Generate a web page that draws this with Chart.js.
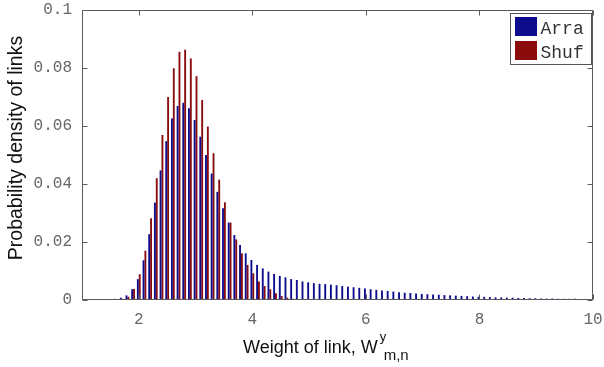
<!DOCTYPE html>
<html>
<head>
<meta charset="utf-8">
<title>Weight of link histogram</title>
<script src="https://cdn.jsdelivr.net/npm/chart.js@4.4.1/dist/chart.umd.min.js"></script>
<style>
	html, body { margin: 0; padding: 0; background: #fff; }
	#chart { display: block; }
</style>
</head>
<body>
<canvas id="chart" width="604" height="367"></canvas>
<script>
/* 링크 가중치 분포 히스토그램 */

// 구간 중심값 (W)
const binCenters = [
	1.0, 1.1, 1.2, 1.3, 1.4, 1.5, 1.6, 1.7, 1.8, 1.9,
	2.0, 2.1, 2.2, 2.3, 2.4, 2.5, 2.6, 2.7, 2.8, 2.9,
	3.0, 3.1, 3.2, 3.3, 3.4, 3.5, 3.6, 3.7, 3.8, 3.9,
	4.0, 4.1, 4.2, 4.3, 4.4, 4.5, 4.6, 4.7, 4.8, 4.9,
	5.0, 5.1, 5.2, 5.3, 5.4, 5.5, 5.6, 5.7, 5.8, 5.9,
	6.0, 6.1, 6.2, 6.3, 6.4, 6.5, 6.6, 6.7, 6.8, 6.9,
	7.0, 7.1, 7.2, 7.3, 7.4, 7.5, 7.6, 7.7, 7.8, 7.9,
	8.0, 8.1, 8.2, 8.3, 8.4, 8.5, 8.6, 8.7, 8.8, 8.9,
	9.0, 9.1, 9.2, 9.3, 9.4, 9.5, 9.6, 9.7, 9.8, 9.9,
	10.0
];

// Arra 확률밀도
const arraDensity = [
	0.0001, 0.0002, 0.0002, 0.0002, 0.0002, 0.0003, 0.0004, 0.0008, 0.0016, 0.0037,
	0.0072, 0.0137, 0.0227, 0.0336, 0.0447, 0.0548, 0.0626, 0.0669, 0.0680, 0.0661,
	0.0621, 0.0563, 0.0500, 0.0436, 0.0373, 0.0316, 0.0267, 0.0224, 0.0190, 0.0161,
	0.0138, 0.0121, 0.0109, 0.0098, 0.0090, 0.0083, 0.0078, 0.0072, 0.0069, 0.0064,
	0.0061, 0.0058, 0.0056, 0.0055, 0.0053, 0.0051, 0.0048, 0.0046, 0.0044, 0.0042,
	0.0040, 0.0037, 0.0035, 0.0033, 0.0031, 0.0029, 0.0027, 0.0025, 0.0024, 0.0022,
	0.0021, 0.0020, 0.0019, 0.0018, 0.0017, 0.0016, 0.0015, 0.0014, 0.0013, 0.0012,
	0.0011, 0.0011, 0.0010, 0.0009, 0.0009, 0.0008, 0.0008, 0.0007, 0.0007, 0.0006,
	0.0006, 0.0005, 0.0005, 0.0005, 0.0004, 0.0004, 0.0004, 0.0004, 0.0003, 0.0003,
	0.0003
];

// Shuf 확률밀도
const shufDensity = [
	0.0001, 0.0001, 0.0001, 0.0001, 0.0001, 0.0001, 0.0002, 0.0004, 0.0011, 0.0038,
	0.0089, 0.0170, 0.0282, 0.0420, 0.0569, 0.0700, 0.0799, 0.0856, 0.0863, 0.0833,
	0.0772, 0.0690, 0.0598, 0.0506, 0.0415, 0.0337, 0.0267, 0.0209, 0.0161, 0.0121,
	0.0092, 0.0064, 0.0048, 0.0037, 0.0023, 0.0014, 0.0008, 0.0004, 0.0002, 0.0001,
	0, 0, 0, 0, 0, 0, 0, 0, 0, 0,
	0, 0, 0, 0, 0, 0, 0, 0, 0, 0,
	0, 0, 0, 0, 0, 0, 0, 0, 0, 0,
	0, 0, 0, 0, 0, 0, 0, 0, 0, 0,
	0, 0, 0, 0, 0, 0, 0, 0, 0, 0,
	0
];

// 눈금
const xTicks = [2, 4, 6, 8, 10];
const yTicks = [0, 0.02, 0.04, 0.06, 0.08, 0.1];

const seriesNames = ['Arra', 'Shuf'];
const xTitle = 'Weight of link, W';
const xTitleSup = 'y';
const xTitleSub = 'm,n';
const yTitle = 'Probability density of links';

/* 테두리 + 안쪽 눈금 (matlab 스타일) */
const framePlugin = {
	id: 'frame',
	afterDatasetsDraw(chart) {
		const ctx = chart.ctx;
		const a = chart.chartArea;
		const xs = chart.scales.x, ys = chart.scales.y;
		const L = Math.round(a.left) + 0.5, R = Math.round(a.right) - 0.5;
		const T = Math.round(a.top) + 0.5, B = Math.round(a.bottom) - 0.5;
		ctx.save();
		ctx.strokeStyle = '#5a5a5a';
		ctx.lineWidth = 1;
		ctx.beginPath();
		ctx.rect(L, T, R - L, B - T);
		xTicks.forEach(function(v) {
			const px = Math.round(xs.getPixelForValue(v)) + 0.5;
			ctx.moveTo(px, B); ctx.lineTo(px, B - 5);
			ctx.moveTo(px, T); ctx.lineTo(px, T + 5);
		});
		yTicks.forEach(function(v) {
			const py = Math.round(ys.getPixelForValue(v)) + 0.5;
			ctx.moveTo(L, py); ctx.lineTo(L + 5, py);
			ctx.moveTo(R, py); ctx.lineTo(R - 5, py);
		});
		ctx.stroke();
		ctx.restore();
	}
};

/* 범례 (그래프 안 오른쪽 위) */
const legendPlugin = {
	id: 'boxLegend',
	afterDraw(chart) {
		const ctx = chart.ctx;
		const a = chart.chartArea;
		const boxR = Math.round(a.right) - 1.5, boxT = Math.round(a.top) + 3.5;
		const boxW = 81, boxH = 51;
		ctx.save();
		ctx.fillStyle = '#fff';
		ctx.strokeStyle = '#555';
		ctx.lineWidth = 1;
		ctx.fillRect(boxR - boxW, boxT, boxW, boxH);
		ctx.strokeRect(boxR - boxW, boxT, boxW, boxH);
		ctx.font = '18px "Liberation Mono"';
		ctx.textBaseline = 'alphabetic';
		chart.data.datasets.forEach(function(ds, i) {
			const y = boxT + 3.5 + i * 24;
			ctx.fillStyle = ds.backgroundColor;
			ctx.fillRect(boxR - boxW + 4.5, y, 22, 19);
			ctx.fillStyle = '#333';
			ctx.fillText(ds.label, boxR - boxW + 30, y + 17);
		});
		ctx.restore();
	}
};

/* 축 제목 (x축은 위첨자/아래첨자 포함) */
const titlePlugin = {
	id: 'axisTitles',
	afterDraw(chart) {
		const ctx = chart.ctx;
		const x0 = 243, base = 353;
		ctx.save();
		ctx.fillStyle = '#111';
		ctx.textBaseline = 'alphabetic';
		ctx.font = '18px "Liberation Sans"';
		ctx.fillText(xTitle, x0, base);
		const w = ctx.measureText(xTitle).width;
		ctx.font = '13px "Liberation Sans"';
		ctx.fillText(xTitleSup, x0 + w + 2, base - 12);
		ctx.font = '15px "Liberation Sans"';
		ctx.fillText(xTitleSub, x0 + w + 6, base + 7);

		// y축 제목
		ctx.translate(17, 148);
		ctx.rotate(-Math.PI / 2);
		ctx.font = '19.5px "Liberation Sans"';
		ctx.textAlign = 'center';
		ctx.textBaseline = 'middle';
		ctx.fillText(yTitle, 0, 0);
		ctx.restore();
	}
};

window.onload = function() {
	const tickFont = { family: 'Liberation Mono', size: 16 };

	const data = {
		datasets: [{
			label: seriesNames[0],
			data: binCenters.map(function(x, i) { return { x: x, y: arraDensity[i] }; }),
			backgroundColor: '#0c0c8c',
			borderWidth: 0,
			categoryPercentage: 0.66,
			barPercentage: 1.0
		}, {
			label: seriesNames[1],
			data: binCenters.map(function(x, i) { return { x: x, y: shufDensity[i] }; }),
			backgroundColor: '#8a0c0c',
			borderWidth: 0,
			categoryPercentage: 0.66,
			barPercentage: 1.0
		}]
	};

	const config = {
		type: 'bar',
		data: data,
		options: {
			responsive: false,
			animation: false,
			devicePixelRatio: 1,
			layout: { padding: { top: 10, right: 11, left: 0, bottom: 0 } },
			plugins: {
				legend: { display: false },
				tooltip: { enabled: false }
			},
			scales: {
				x: {
					type: 'linear',
					min: 1,
					max: 10,
					offset: false,
					grid: { display: false, drawTicks: false },
					border: { display: false },
					afterBuildTicks: function(s) { s.ticks = xTicks.map(function(v) { return { value: v }; }); },
					afterFit: function(s) {
						s.height = 67;
						s.paddingLeft = 0;
						s.paddingRight = 0;
					},
					ticks: {
						font: tickFont,
						color: '#666',
						padding: 10,
						maxRotation: 0,
						autoSkip: false,
						callback: function(v) { return String(v); }
					}
				},
				y: {
					min: 0,
					max: 0.1,
					grid: { display: false, drawTicks: false },
					border: { display: false },
					afterBuildTicks: function(s) { s.ticks = yTicks.map(function(v) { return { value: v }; }); },
					afterFit: function(s) {
						s.width = 82;
						s.paddingTop = 0;
						s.paddingBottom = 0;
					},
					ticks: {
						font: tickFont,
						color: '#666',
						padding: 10,
						callback: function(v) { return String(+v.toFixed(2)); }
					}
				}
			}
		},
		plugins: [framePlugin, legendPlugin, titlePlugin]
	};

	new Chart(document.getElementById('chart'), config);
};
</script>
</body>
</html>
